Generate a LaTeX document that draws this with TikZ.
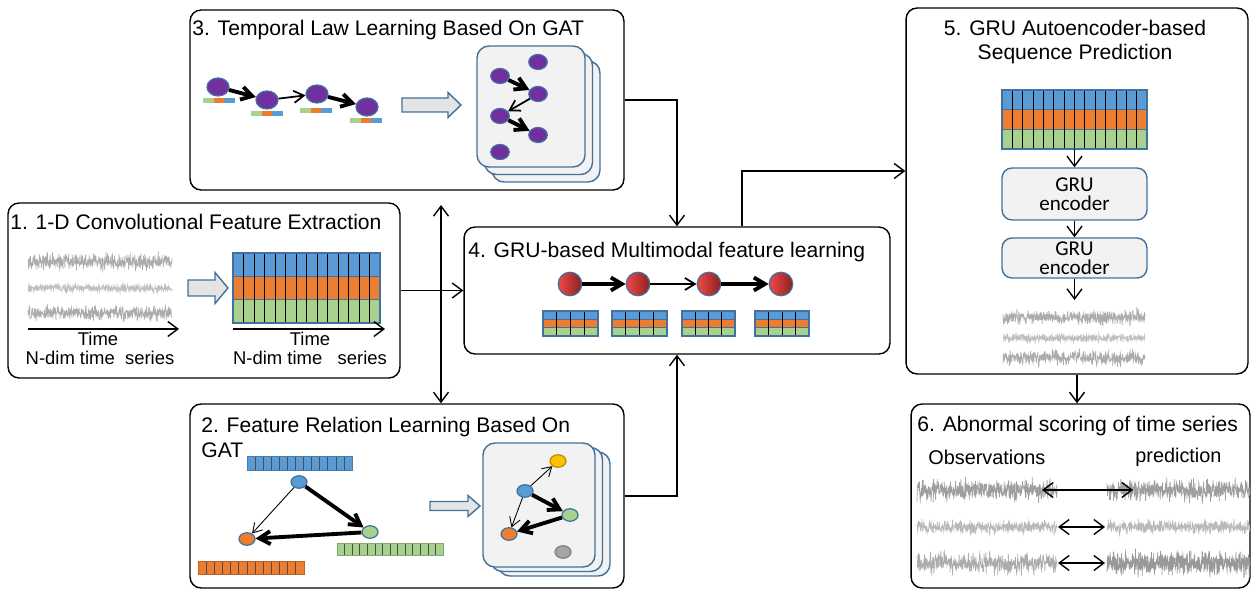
\documentclass[tikz,border=0pt]{standalone}
\usepackage{fontspec}
\setmainfont{Liberation Sans}
\newfontfamily\calibrilike{Carlito}
\usepackage{tikz}
\usetikzlibrary{arrows.meta, shapes.geometric, calc}

\definecolor{cblue}{HTML}{5B9BD5}
\definecolor{corange}{HTML}{ED7D31}
\definecolor{cgreen}{HTML}{A9D18E}
\definecolor{cpurple}{HTML}{7030A0}
\definecolor{cedge}{HTML}{41719C}
\definecolor{cfill}{HTML}{F2F2F2}
\definecolor{carrowfill}{HTML}{E4E4E4}
\definecolor{cyellow}{HTML}{FFC000}
\definecolor{cyellowedge}{HTML}{BC8C00}
\definecolor{cgrey}{HTML}{A5A5A5}
\definecolor{cgreyedge}{HTML}{7F7F7F}
\definecolor{cred}{HTML}{F04848}
\definecolor{cdred}{HTML}{8A2222}

% three-row feature grid: x1 y1 x2 y2 columns
\newcommand{\featgrid}[5]{%
  \pgfmathsetmacro{\ya}{#2+(#4-#2)/3}
  \pgfmathsetmacro{\yb}{#2+2*(#4-#2)/3}
  \pgfmathsetmacro{\cw}{(#3-#1)/#5}
  \pgfmathtruncatemacro{\nm}{#5-1}
  \fill[cblue] (#1,#2) rectangle (#3,\ya);
  \fill[corange] (#1,\ya) rectangle (#3,\yb);
  \fill[cgreen] (#1,\yb) rectangle (#3,#4);
  \draw[cedge, line width=0.6pt] (#1,\ya) -- (#3,\ya) (#1,\yb) -- (#3,\yb);
  \foreach \k in {1,...,\nm}
    \draw[black, line width=0.5pt] ({#1+\k*\cw},#2) -- ({#1+\k*\cw},#4);
  \draw[cedge, line width=0.6pt] (#1,#2) rectangle (#3,#4);
}
% one-row cell bar: x1 y1 x2 y2 cells colour
\newcommand{\cellbar}[6]{%
  \pgfmathsetmacro{\cw}{(#3-#1)/#5}
  \pgfmathtruncatemacro{\nm}{#5-1}
  \fill[#6] (#1,#2) rectangle (#3,#4);
  \foreach \k in {1,...,\nm}
    \draw[black!70, line width=0.4pt] ({#1+\k*\cw},#2) -- ({#1+\k*\cw},#4);
  \draw[#6!80!black, line width=0.4pt] (#1,#2) rectangle (#3,#4);
}
% noisy trace: x1 x2 y amplitude samples
\newcommand{\noisy}[6][gray!65]{%
  \draw[#1, line width=0.4pt] plot[domain=#2:#3, samples=#6, variable=\t]
    (\t, {#4+#5*(rand+rand+rand)/2});
}
% block arrow: x1 x2 y shaft-half head-half head-length
\newcommand{\blockarrow}[6]{%
  \draw[draw=cedge, fill=carrowfill, line width=0.8pt]
    (#1,{#3-#4}) -- ({#2-#6},{#3-#4}) -- ({#2-#6},{#3-#5}) -- (#2,#3)
    -- ({#2-#6},{#3+#5}) -- ({#2-#6},{#3+#4}) -- (#1,{#3+#4}) -- cycle;
}
% stack of three cards: x1 y1 x2 y2 dx dy
\newcommand{\cardstack}[6]{%
  \foreach \k in {2,1,0}
    \draw[draw=cedge, fill=cfill, line width=0.8pt, rounded corners=0.24cm]
      ({#1+\k*#5},{#2+\k*#6}) rectangle ({#3+\k*#5},{#4+\k*#6});
}

\begin{document}
\begin{tikzpicture}[x=0.02cm, y=-0.02cm,
  panel/.style={draw, line width=0.8pt, rounded corners=0.22cm, inner sep=0},
  title/.style={font=\fontsize{12}{14}\selectfont, inner sep=0, anchor=base west},
  lab/.style={font=\fontsize{10.5}{12}\selectfont, inner sep=0, anchor=base},
  conn/.style={-{Straight Barb[length=2mm, width=3mm]}, line width=0.8pt},
  dconn/.style={{Straight Barb[length=2mm, width=3mm]}-{Straight Barb[length=2mm, width=3mm]}, line width=0.8pt},
  pnode/.style={ellipse, draw=cedge, fill=cpurple, line width=0.7pt,
                minimum width=0.44cm, minimum height=0.36cm, inner sep=0},
  spnode/.style={pnode, minimum width=0.37cm, minimum height=0.3cm},
  rnode/.style={circle, draw=cedge, line width=0.7pt, left color=cred, right color=cdred,
                minimum size=0.47cm, inner sep=0},
  fnode/.style={ellipse, line width=0.7pt, minimum width=0.32cm, minimum height=0.25cm, inner sep=0},
  bold/.style={-{Straight Barb[length=2.2mm, width=2.6mm]}, line width=2.2pt},
  fine/.style={-{Straight Barb[length=2mm, width=2.4mm]}, line width=1pt},
  hair/.style={-{Straight Barb[length=1.8mm, width=2.2mm]}, line width=0.5pt},
  enc/.style={rectangle, rounded corners=0.2cm, draw=cedge, fill=cfill, line width=0.8pt,
              minimum width=2.9cm, align=center, inner sep=0,
              font=\calibrilike\fontsize{12}{11}\selectfont}
]
\useasboundingbox (0,0) rectangle (1253,590);
\pgfmathsetseed{11}

% panels
\node[panel, minimum width=8.68cm, minimum height=3.6cm] (p3) at (407,100) {};
\node[panel, minimum width=7.84cm, minimum height=3.5cm] (p1) at (204,290.5) {};
\node[panel, minimum width=8.52cm, minimum height=2.54cm] (p4) at (677,290.5) {};
\node[panel, minimum width=8.68cm, minimum height=3.68cm] (p2) at (407,496) {};
\node[panel, minimum width=6.84cm, minimum height=7.32cm] (p5) at (1077,191) {};
\node[panel, minimum width=6.78cm, minimum height=3.68cm] (p6) at (1080.5,496) {};

\node[title] at (192,36) {3. Temporal Law Learning Based On GAT};
\node[title] at (10,230) {1. 1-D Convolutional Feature Extraction};
\node[title] at (468,258) {4. GRU-based Multimodal feature learning};
\node[title] at (201,433) {2. Feature Relation Learning Based On};
\node[title] at (201,458) {GAT};
\node[title, anchor=base] at (1075,36) {5. GRU Autoencoder-based};
\node[title, anchor=base] at (1075,60) {Sequence Prediction};
\node[title] at (917,432) {6. Abnormal scoring of time series};

% links between panels
\draw[conn] (p1.east) -- (p4.west);
\coordinate (gap) at (441,205);
\draw[dconn] (gap) -- (gap |- p2.north);
\draw[conn] (p3.east) -| (p4.north);
\draw[conn] ($(p4.north)+(65,0)$) |- ($(p5.west)+(0,-20)$);
\draw[conn] (p2.east) -| (p4.south);
\draw[conn] (p5.south) -- (p5.south |- p6.north);

% 3: temporal chain
\foreach \bx/\by in {203/98, 251/111, 300/108, 350/118} {
  \fill[cgreen] (\bx,\by) rectangle ++(11,5);
  \fill[corange] (\bx+11,\by) rectangle ++(10,5);
  \fill[cblue] (\bx+21,\by) rectangle ++(11,5);
}
\node[pnode] (s1) at (218,87) {};
\node[pnode] (s2) at (267,100) {};
\node[pnode] (s3) at (317,94) {};
\node[pnode] (s4) at (367,107) {};
\draw[bold] (s1) -- (s2);
\draw[fine] (s2) -- (s3);
\draw[bold] (s3) -- (s4);
\blockarrow{402}{461}{105}{7}{12.5}{13}
\cardstack{477}{46}{585}{167}{7.5}{7.5}
\node[spnode] (g1) at (538,62) {};
\node[spnode] (g2) at (500,76) {};
\node[spnode] (g3) at (538,94) {};
\node[spnode] (g4) at (500,116) {};
\node[spnode] (g5) at (538,135) {};
\node[spnode] (g6) at (500,152) {};
\draw[bold] (g2) -- (g3);
\draw[fine] (g3) -- (g4);
\draw[bold] (g4) -- (g5);

% 1: raw series and conv features
\noisy{28}{172}{262}{8}{450}
\noisy[gray!50]{28}{172}{288}{3.5}{450}
\noisy{28}{172}{313}{7}{450}
\coordinate (ta) at (28,329);
\coordinate (tb) at (179,329);
\draw[conn] (ta) -- (tb);
\node[lab] at (98,346) {Time};
\node[lab] at (100,365) {N-dim time\ \ series};
\blockarrow{188}{228}{288}{8}{15.5}{13}
\featgrid{233}{253}{380}{323}{14}
\coordinate (tc) at (233,329);
\coordinate (td) at (385,329);
\draw[conn] (tc) -- (td);
\node[lab] at (310,346) {Time};
\node[lab] at (310,365) {N-dim time\ \ \ series};

% 4: GRU chain
\node[rnode] (r1) at (570,284) {};
\node[rnode] (r2) at (638,284) {};
\node[rnode] (r3) at (709,284) {};
\node[rnode] (r4) at (781,284) {};
\draw[bold] (r1) -- (r2);
\draw[fine] (r2) -- (r3);
\draw[bold] (r3) -- (r4);
\featgrid{543}{311}{598}{336}{4}
\featgrid{612}{311}{667}{336}{4}
\featgrid{682}{311}{735}{336}{4}
\featgrid{755}{311}{809}{336}{4}

% 2: feature relation graph
\cellbar{247}{456}{352}{470}{13}{cblue}
\cellbar{198}{561}{304}{574}{13}{corange}
\cellbar{337}{543}{443}{555}{14}{cgreen}
\node[fnode, draw=cedge, fill=cblue] (fb) at (299,482) {};
\node[fnode, draw=cedge, fill=corange] (fo) at (247,539) {};
\node[fnode, draw=cedge, fill=cgreen] (fg) at (370,532) {};
\draw[hair] (fb) -- (fo);
\draw[bold] (fb) -- (fg);
\draw[bold] (fg) -- (fo);
\blockarrow{430}{480}{506}{4.5}{10.5}{12}
\cardstack{483}{443}{595}{567}{7.5}{4.5}
\node[fnode, draw=cyellowedge, fill=cyellow] (hy) at (558,461) {};
\node[fnode, draw=cedge, fill=cblue] (hb) at (525,491) {};
\node[fnode, draw=cedge, fill=cgreen] (hg) at (570,515) {};
\node[fnode, draw=cedge, fill=corange] (ho) at (509,534) {};
\node[fnode, draw=cgreyedge, fill=cgrey] (hx) at (563,552) {};
\draw[hair] (hb) -- (hy);
\draw[hair] (hb) -- (ho);
\draw[bold] (hb) -- (hg);
\draw[bold] (hg) -- (ho);

% 5: autoencoder
\featgrid{1002}{90}{1147}{149}{14}
\coordinate (gbot) at (1074.5,149);
\node[enc, minimum height=1.04cm] (e1) at (1074.5,194) {GRU\\encoder};
\node[enc, minimum height=0.8cm] (e2) at (1074.5,258) {GRU\\encoder};
\coordinate (eout) at (1074.5,300);
\draw[conn] (gbot) -- (e1);
\draw[conn] (e1) -- (e2);
\draw[conn] (e2) -- (eout);
\noisy{1003}{1145}{317}{7}{450}
\noisy[gray!50]{1003}{1145}{338}{3.5}{450}
\noisy{1003}{1145}{358}{7}{450}

% 6: scoring
\node[title, font=\fontsize{11.3}{13}\selectfont] at (928,465) {Observations};
\node[title, font=\fontsize{11.3}{13}\selectfont] at (1135,463) {prediction};
\noisy[gray!75]{917}{1057}{490}{10}{550}
\noisy[gray!55]{917}{1057}{527}{6}{450}
\noisy{917}{1057}{563}{10}{450}
\noisy[gray!75]{1107}{1250}{490}{10}{550}
\noisy[gray!55]{1107}{1250}{527}{6}{450}
\noisy[gray!80]{1107}{1250}{563}{11}{700}
\coordinate (o1) at (1042,490);
\coordinate (q1) at (1133,490);
\coordinate (o2) at (1058,527);
\coordinate (q2) at (1105,527);
\coordinate (o3) at (1058,563);
\coordinate (q3) at (1105,563);
\draw[dconn] (o1) -- (q1);
\draw[dconn] (o2) -- (q2);
\draw[dconn] (o3) -- (q3);
\end{tikzpicture}
\end{document}
